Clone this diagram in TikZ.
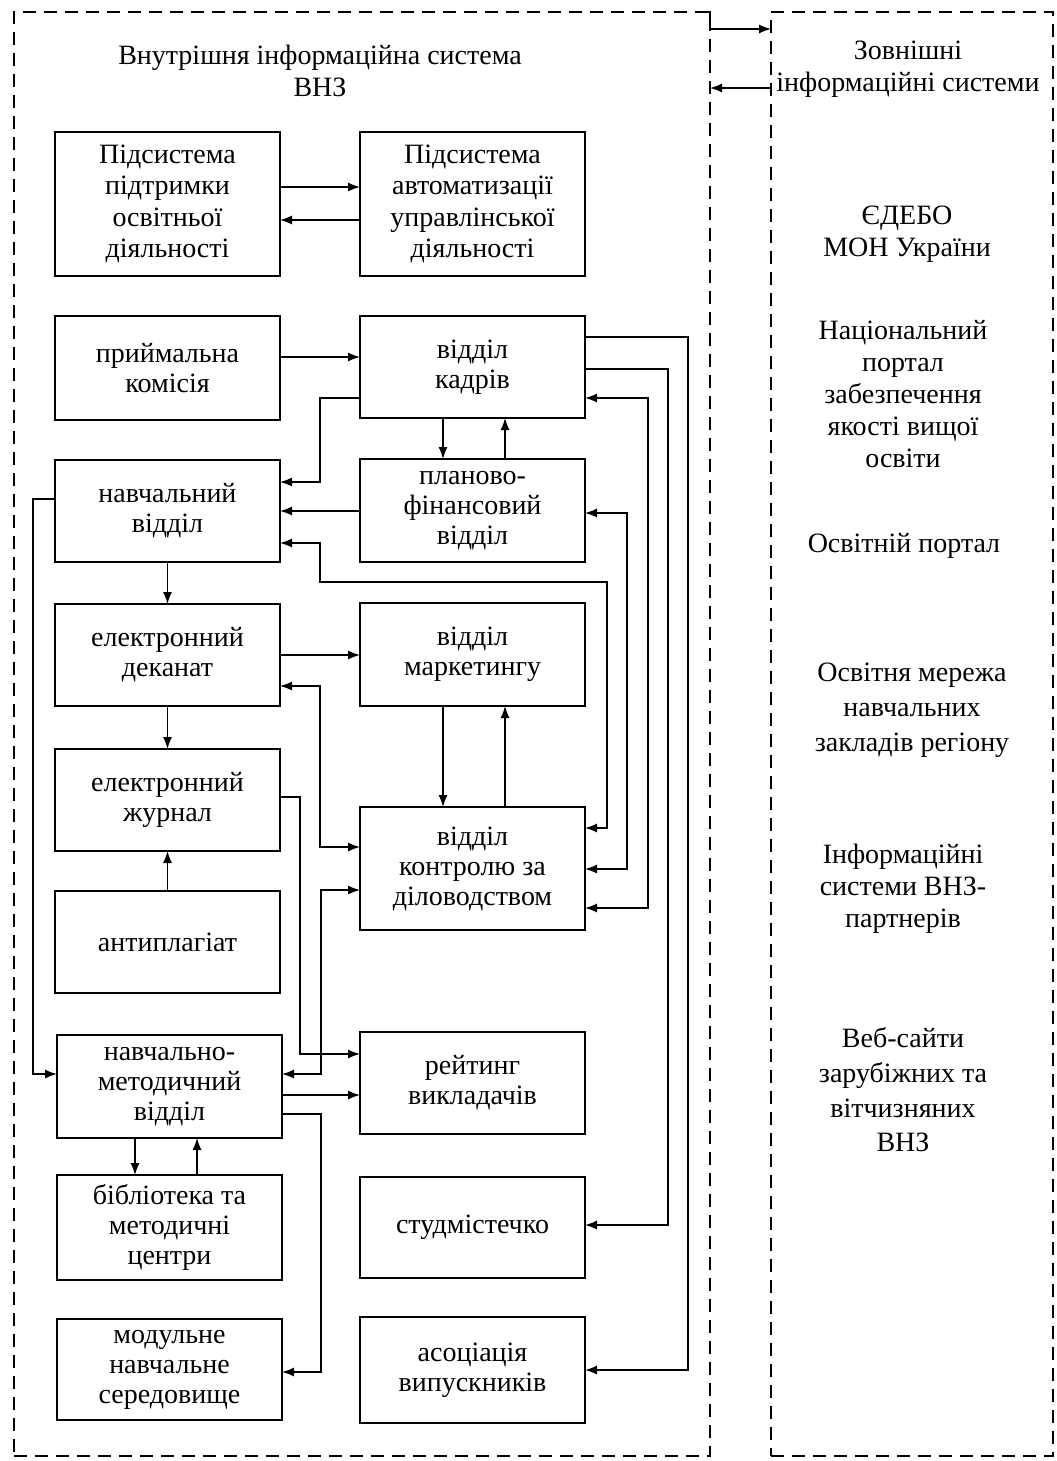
\documentclass[tikz,border=0pt]{standalone}
\usepackage{fontspec}
\setmainfont{Liberation Serif}
\usetikzlibrary{arrows.meta}

\tikzset{
  blok/.style={draw, line width=0.9pt, minimum width=112.5pt, inner sep=1pt, outer sep=0pt,
    align=center, font=\fontsize{14}{15}\selectfont},
  zona/.style={draw, dash pattern=on 6.5pt off 4pt, line width=0.9pt, inner sep=0pt, outer sep=0pt},
  napys/.style={align=center, font=\fontsize{14}{16}\selectfont},
  zv/.style={line width=0.8pt}
}

\begin{document}
\begin{tikzpicture}[x=0.5pt, y=-0.5pt, >={Latex[length=6pt,width=4.6pt]}]
        \useasboundingbox (0,0) rectangle (1056,1461);

        % two zones
        \node[zona, minimum width=348pt, minimum height=722pt] (vnutr) at (362,734) {};
        \node[zona, minimum width=141pt, minimum height=722pt] (zovn) at (912,734) {};
        \node[napys] (vnutrtitle) at (320,71) {Внутрішня інформаційна система\\ВНЗ};
        \node[napys] (zovntitle) at (908,69) {Зовнішні\\інформаційні системи};

        \draw[zv] ([xshift=-5pt]vnutr.north east) -- (vnutr.north east) -- (vnutr.east |- 0,29);
        \draw[zv,->] (vnutr.east |- 0,29) -- (zovn.west |- 0,29);
        \draw[zv,->] (zovn.west |- 0,88) -- (vnutr.east |- 0,88);

        % internal units
        \node[blok, minimum height=72pt, font=\fontsize{14}{15.8}\selectfont] (podosv) at (167.5,204) {Підсистема\\підтримки\\освітньої\\діяльності};
        \node[blok, minimum height=72pt, font=\fontsize{14}{15.8}\selectfont] (podupr) at (472.5,204) {Підсистема\\автоматизації\\управлінської\\діяльності};
        \node[blok, minimum height=52pt] (pryim) at (167.5,368) {приймальна\\комісія};
        \node[blok, minimum height=51pt] (kadry) at (472.5,367) {відділ\\кадрів};
        \node[blok, minimum height=51pt] (navch) at (167.5,511) {навчальний\\відділ};
        \node[blok, minimum height=51.5pt] (plan) at (472.5,510.5) {планово-\\фінансовий\\відділ};
        \node[blok, minimum height=51pt] (dekanat) at (167.5,655) {електронний\\деканат};
        \node[blok, minimum height=51.5pt] (market) at (472.5,654.5) {відділ\\маркетингу};
        \node[blok, minimum height=51pt] (zhurnal) at (167.5,800) {електронний\\журнал};
        \node[blok, minimum height=61.5pt] (kontrol) at (472.5,868.5) {відділ\\контролю за\\діловодством};
        \node[blok, minimum height=51pt] (antypl) at (167.5,942) {антиплагіат};
        \node[blok, minimum height=51.5pt] (navmet) at (169.5,1086.5) {навчально-\\методичний\\відділ};
        \node[blok, minimum height=51pt] (reityng) at (472.5,1083) {рейтинг\\викладачів};
        \node[blok, minimum height=52.5pt] (bibl) at (169.5,1227.5) {бібліотека та\\методичні\\центри};
        \node[blok, minimum height=50.5pt] (studm) at (472.5,1227.5) {студмістечко};
        \node[blok, minimum height=50.5pt] (modul) at (169.5,1369.5) {модульне\\навчальне\\середовище};
        \node[blok, minimum height=53pt] (asoc) at (472.5,1370) {асоціація\\випускників};

        % external systems
        \node[napys] (yedebo) at (907,234) {ЄДЕБО\\МОН України};
        \node[napys] (portal) at (903,394) {Національний\\портал\\забезпечення\\якості вищої\\освіти};
        \node[napys] (osvportal) at (904,546) {Освітній портал};
        \node[napys, font=\fontsize{14}{17.5}\selectfont] (merezha) at (912,710) {Освітня мережа\\навчальних\\закладів регіону};
        \node[napys] (partnery) at (903,889) {Інформаційні\\системи ВНЗ-\\партнерів};
        \node[napys, font=\fontsize{14}{17.3}\selectfont] (vebsaity) at (903,1090) {Веб-сайти\\зарубіжних та\\вітчизняних\\ВНЗ};

        % links
        \draw[zv,->] (podosv.east |- 0,187) -- (podupr.west |- 0,187);
        \draw[zv,->] (podupr.west |- 0,220) -- (podosv.east |- 0,220);
        \draw[zv,->] (pryim.east |- 0,357) -- (kadry.west |- 0,357);
        \draw[zv,->] (kadry.west |- 0,398) -- (320,398) -- (320,482) -- (navch.east |- 0,482);
        \draw[zv,->] (kadry.south -| 443,0) -- (plan.north -| 443,0);
        \draw[zv,->] (plan.north -| 505,0) -- (kadry.south -| 505,0);
        \draw[zv,->] (plan.west |- 0,511) -- (navch.east |- 0,511);
        \draw[zv,<->] (navch.east |- 0,543) -- (320,543) -- (320,582) -- (607,582) -- (607,828) -- (kontrol.east |- 0,828);
        \draw[zv,->] (kadry.east |- 0,337) -- (688,337) -- (688,1370) -- (asoc.east |- 0,1370);
        \draw[zv,->] (kadry.east |- 0,369) -- (668,369) -- (668,1225) -- (studm.east |- 0,1225);
        \draw[zv,<->] (kadry.east |- 0,398) -- (648,398) -- (648,908) -- (kontrol.east |- 0,908);
        \draw[zv,<->] (plan.east |- 0,513) -- (627,513) -- (627,869) -- (kontrol.east |- 0,869);
        \draw[zv,->] (navch.south -| 167.5,0) -- (dekanat.north -| 167.5,0);
        \draw[zv,->] (navch.west |- 0,499) -- (33,499) -- (33,1074) -- (navmet.west |- 0,1074);
        \draw[zv,->] (dekanat.east |- 0,655) -- (market.west |- 0,655);
        \draw[zv,<->] (dekanat.east |- 0,686) -- (320,686) -- (320,847) -- (kontrol.west |- 0,847);
        \draw[zv,->] (market.south -| 443,0) -- (kontrol.north -| 443,0);
        \draw[zv,->] (kontrol.north -| 505,0) -- (market.south -| 505,0);
        \draw[zv,->] (dekanat.south -| 167.5,0) -- (zhurnal.north -| 167.5,0);
        \draw[zv,->] (antypl.north -| 167.5,0) -- (zhurnal.south -| 167.5,0);
        \draw[zv,->] (zhurnal.east |- 0,797) -- (300,797) -- (300,1054) -- (reityng.west |- 0,1054);
        \draw[zv,<->] (kontrol.west |- 0,890) -- (321,890) -- (321,1074) -- (navmet.east |- 0,1074);
        \draw[zv,->] (navmet.east |- 0,1095) -- (reityng.west |- 0,1095);
        \draw[zv,->] (navmet.east |- 0,1114) -- (321,1114) -- (321,1372) -- (modul.east |- 0,1372);
        \draw[zv,->] (navmet.south -| 135,0) -- (bibl.north -| 135,0);
        \draw[zv,->] (bibl.north -| 197,0) -- (navmet.south -| 197,0);
\end{tikzpicture}
\end{document}
